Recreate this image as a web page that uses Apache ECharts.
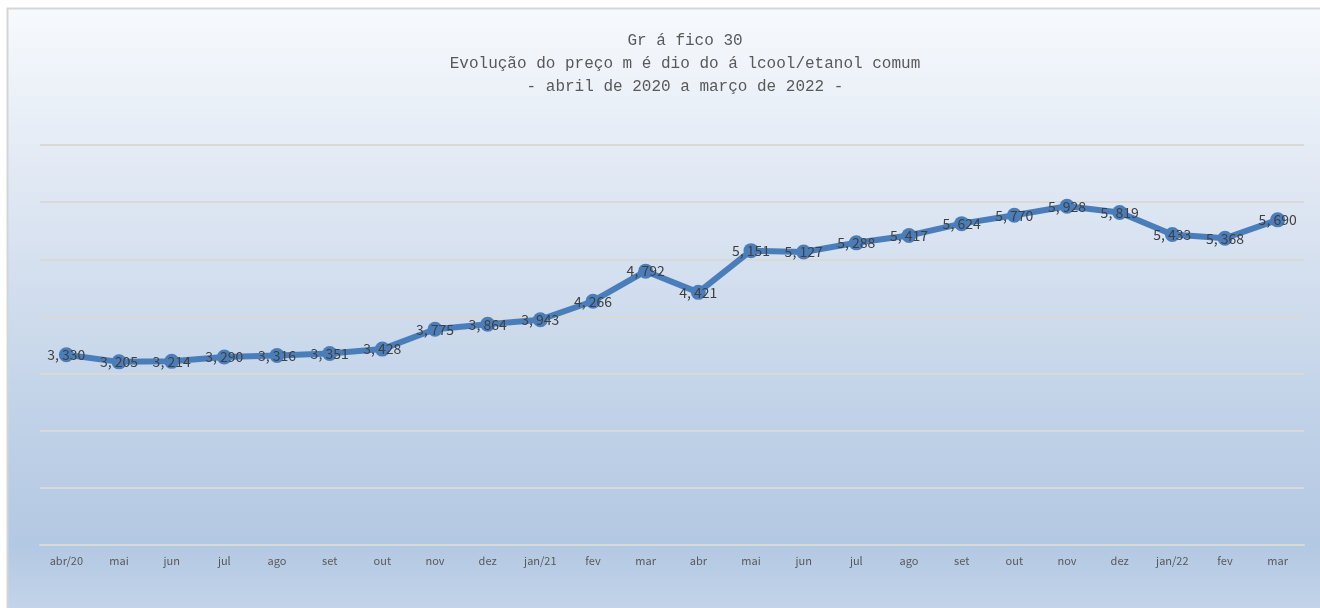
<!DOCTYPE html>
<html>
<head>
<meta charset="utf-8">
<script src="https://cdn.jsdelivr.net/npm/echarts@6/dist/echarts.min.js"></script>
<style>
html, body { margin: 0; padding: 0; background: #fff; }
#chart { width: 1320px; height: 608px; }
</style>
</head>
<body>
<div id="chart"></div>
<script>
var months = ['abr/20', 'mai', 'jun', 'jul', 'ago', 'set', 'out', 'nov', 'dez', 'jan/21', 'fev', 'mar',
    'abr', 'mai', 'jun', 'jul', 'ago', 'set', 'out', 'nov', 'dez', 'jan/22', 'fev', 'mar'];
var prices = [3.330, 3.205, 3.214, 3.290, 3.316, 3.351, 3.428, 3.775, 3.864, 3.943, 4.266, 4.792,
    4.421, 5.151, 5.127, 5.288, 5.417, 5.624, 5.770, 5.928, 5.819, 5.433, 5.368, 5.690];
var titleLines = ['Gr á fico 30', 'Evolução do preço m é dio do á lcool/etanol comum', '- abril de 2020 a março de 2022 -'];

var dom = document.getElementById('chart');
var myChart = echarts.init(dom);
var monoFont = '"Liberation Mono", "DejaVu Sans Mono", monospace';
var cjkFont = '"Noto Sans CJK SC", "DejaVu Sans", sans-serif';

var option = {
    animation: false,
    graphic: [{
        type: 'rect',
        z: -10,
        shape: { x: 7.5, y: 8.5, width: 1320, height: 610 },
        style: {
            fill: new echarts.graphic.LinearGradient(0, 0, 0, 1, [
                { offset: 0, color: '#f7fafd' },
                { offset: 0.3, color: '#dfe7f3' },
                { offset: 0.65, color: '#c2d3e8' },
                { offset: 0.88, color: '#b3c8e3' },
                { offset: 1, color: '#c6d6ea' }
            ]),
            stroke: '#d6d6d6',
            lineWidth: 2
        }
    }],
    title: {
        text: titleLines.join('\n'),
        left: 680,
        textAlign: 'center',
        top: 24,
        textStyle: {
            fontFamily: monoFont,
            fontSize: 16,
            fontWeight: 'normal',
            color: '#595959',
            lineHeight: 23
        }
    },
    grid: { left: 40, right: 16, top: 145, bottom: 63 },
    xAxis: {
        type: 'category',
        data: months,
        axisLine: { lineStyle: { color: '#d9d9d9', width: 2 } },
        axisTick: { show: false },
        axisLabel: { color: '#595959', fontSize: 11, fontFamily: cjkFont, margin: 10 }
    },
    yAxis: {
        type: 'value',
        min: 0,
        max: 7,
        interval: 1,
        axisLabel: { show: false },
        axisLine: { show: false },
        axisTick: { show: false },
        splitLine: { lineStyle: { color: '#d9d9d9', width: 2 } }
    },
    series: [{
        type: 'line',
        data: prices,
        symbol: 'circle',
        symbolSize: 15,
        lineStyle: { color: '#4a7ebb', width: 6 },
        itemStyle: { color: '#4a7ebb' },
        label: {
            show: true,
            position: 'inside',
            color: '#404040',
            fontSize: 14,
            fontFamily: cjkFont,
            formatter: function (p) {
                return p.value.toFixed(3).replace('.', ', ');
            }
        }
    }]
};

myChart.setOption(option);
window.addEventListener('resize', function () {
    myChart.resize();
});
</script>
</body>
</html>
